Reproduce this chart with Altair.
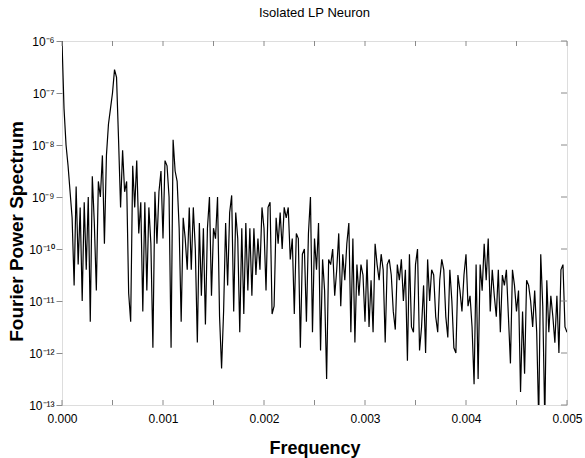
import altair as alt
import pandas as pd

title_text = "Isolated LP Neuron"
x_title = "Frequency"
y_title = "Fourier Power Spectrum"

# log10 of the Fourier power, in frequency order
seg_a = [-6.0, -7.3, -8.0, -8.4, -8.9, -9.4, -10.7, -8.8, -10.3, -9.2, -11.0, -9.1,
         -10.4, -9.0, -11.4, -8.6, -9.5, -10.8, -8.7, -9.0, -8.2, -9.9, -8.2, -7.6,
         -7.3, -7.0, -6.55, -6.7, -7.9, -9.2, -8.1, -8.9, -8.7, -10.85, -11.4, -8.4, -9.2]
seg_b = [-8.3, -9.7, -9.1, -11.2, -9.1, -10.8, -9.2, -9.9, -11.9, -8.9, -9.9, -8.9,
         -8.5, -9.8, -8.3, -8.4, -9.0, -11.9, -7.9, -8.5, -8.7, -9.6, -11.4, -9.4,
         -9.8, -10.4, -9.2, -10.4, -9.2, -10.0, -11.8, -9.5, -10.9, -9.6, -11.45, -9.6,
         -9.0, -10.9, -9.6, -9.8, -9.0, -11.3, -12.3]
seg_c = [-11.2, -9.5, -10.7, -9.3, -8.97, -11.2, -9.3, -9.8, -11.6, -9.6, -11.25, -9.5,
         -10.8, -9.6, -10.9, -9.6, -10.5, -9.8, -10.4, -9.2, -9.6, -10.8, -9.2, -9.1,
         -11.25, -11.1, -9.4, -9.9, -9.3, -10.0, -9.2, -9.4, -9.2, -10.2, -9.8, -11.25,
         -9.7, -9.8, -11.9, -10.1]
seg_d = [-10.0, -11.4, -9.7, -9.0, -11.6, -9.8, -10.4, -9.5, -11.95, -10.2, -10.8, -12.5,
         -10.2, -10.3, -10.0, -10.9, -10.4, -9.7, -11.1, -10.1, -10.6, -9.9, -9.5, -11.6,
         -9.8, -11.8, -10.3, -10.9, -10.3, -10.5, -11.4, -10.2, -11.5, -10.6, -11.6, -9.9,
         -10.3, -10.6, -10.1, -10.4, -11.8, -10.3, -10.2]
seg_e = [-10.5, -11.2, -11.55, -10.3, -10.6, -10.2, -11.0, -10.4, -12.15, -10.1, -11.5, -11.6,
         -10.3, -10.0, -11.95, -11.5, -10.7, -12.0, -10.2, -11.0, -10.4, -10.5, -11.3, -11.6,
         -10.6, -10.2, -10.4, -11.3, -11.7, -10.4, -11.0, -11.9, -12.0, -10.5, -10.8, -11.2,
         -10.5, -10.1, -11.1, -10.9, -11.5, -12.6, -10.3]
seg_f = [-12.5, -10.3, -10.8, -9.9, -10.6, -9.8, -11.2, -10.4, -10.9, -11.3, -10.4, -11.6,
         -10.5, -10.7, -10.4, -11.3, -12.2, -10.4, -10.7, -11.2, -10.8, -12.75, -11.2, -12.4,
         -10.6, -10.7, -11.0, -11.5, -10.8, -11.6, -13.3, -10.1, -11.1, -13.3, -10.6, -11.6,
         -10.9, -11.3, -11.8, -10.9, -12.0, -10.4, -10.3, -11.5, -11.6]

log10_power = seg_a + seg_b + seg_c + seg_d + seg_e + seg_f
f_max = 0.005
n = len(log10_power)
freq = [f_max * i / (n - 1) for i in range(n)]
df = pd.DataFrame({"v": freq, "p": [10.0 ** e for e in log10_power]})

x_ticks = [0.0, 0.0005, 0.001, 0.0015, 0.002, 0.0025, 0.003, 0.0035, 0.004, 0.0045, 0.005]
y_ticks = [1e-13, 1e-12, 1e-11, 1e-10, 1e-9, 1e-8, 1e-7, 1e-6]

W, H = 505, 364
FONT = "Liberation Sans"
GRAY = "#8a8a8a"

xscale = alt.Scale(domain=[0, 0.005], nice=False, zero=False)
yscale = alt.Scale(type="log", domain=[1e-13, 1e-6], nice=False)

sup_expr = ("'10' + ['\u207b\u00b9\u00b3','\u207b\u00b9\u00b2','\u207b\u00b9\u00b9','\u207b\u00b9\u2070',"
            "'\u207b\u2079','\u207b\u2078','\u207b\u2077','\u207b\u2076'][round(log(datum.value)/LN10)+13]")
x_label_expr = "round(datum.value*2000) % 2 == 0 ? format(datum.value, '.3f') : ''"

x_axis = alt.Axis(orient="bottom", values=x_ticks, labelExpr=x_label_expr,
                  labelFlush=False, ticks=False, domain=False, grid=False,
                  labelPadding=8, labelFontSize=12, labelFont=FONT,
                  labelColor="black", title=x_title, titleFont=FONT,
                  titleFontSize=18, titleFontWeight="bold", titleColor="black",
                  titlePadding=15)
y_axis = alt.Axis(orient="left", values=y_ticks, labelExpr=sup_expr,
                  ticks=True, tickSize=6, tickColor=GRAY, domain=False, grid=False,
                  labelPadding=2, labelFontSize=12, labelFont=FONT, labelColor="black",
                  title=y_title, titleFont=FONT, titleFontSize=19,
                  titleFontWeight="bold", titleColor="black", titlePadding=2,
                  titleY=190)

line = alt.Chart(df).mark_line(color="black", strokeWidth=1.2, clip=True).encode(
    x=alt.X("v:Q", scale=xscale, axis=x_axis),
    y=alt.Y("p:Q", scale=yscale, axis=y_axis),
)

xt = pd.DataFrame({"v": x_ticks})
yt = pd.DataFrame({"p": y_ticks})

bottom_ticks = alt.Chart(xt).mark_rule(color=GRAY, strokeWidth=1).encode(
    x=alt.X("v:Q", scale=xscale, axis=x_axis), y=alt.value(H), y2=alt.value(H - 5))
top_ticks = alt.Chart(xt).mark_rule(color=GRAY, strokeWidth=1).encode(
    x=alt.X("v:Q", scale=xscale, axis=x_axis), y=alt.value(0), y2=alt.value(5))
right_ticks = alt.Chart(yt).mark_rule(color=GRAY, strokeWidth=1).encode(
    y=alt.Y("p:Q", scale=yscale, axis=y_axis), x=alt.value(W), x2=alt.value(W - 6))

chart = (
    alt.layer(line, bottom_ticks, top_ticks, right_ticks)
    .properties(
        width=W, height=H,
        title=alt.TitleParams(title_text, font=FONT, fontSize=13, fontWeight="normal",
                              color="black", anchor="middle", frame="group", offset=15),
        autosize=alt.AutoSizeParams(type="none"),
        padding={"left": 62, "top": 41, "right": 18, "bottom": 53},
    )
    .configure_view(stroke=GRAY, strokeWidth=1.5)
    .configure(background="white")
)

chart.save("out.html", embed_options={"renderer": "svg", "actions": False})
